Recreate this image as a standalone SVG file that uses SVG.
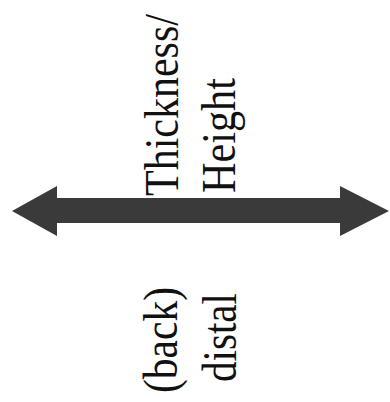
<svg xmlns="http://www.w3.org/2000/svg" width="390" height="402" viewBox="0 0 390 402">
<style>
.lbl{font-family:"Liberation Serif","Times New Roman",serif;font-size:48px;fill:#111}
.arrow{fill:#3a3a3a}
</style>
<rect width="390" height="402" fill="#fff"/>
<g id="connectors">
<path class="arrow" d="M12,211 L57,186 L57,198 L340,198 L340,186 L389,211 L340,236 L340,223 L57,223 L57,236 Z"/>
</g>
<g id="label-thickness"><text class="lbl" transform="translate(178,196) rotate(-90) scale(0.875,1)">Thickness/</text></g>
<g id="label-height"><text class="lbl" transform="translate(235,193) rotate(-90) scale(0.88,1)">Height</text></g>
<g id="label-back"><text class="lbl" transform="translate(177,393) rotate(-90) scale(0.865,1)">(back)</text></g>
<g id="label-distal"><text class="lbl" transform="translate(236,382) rotate(-90) scale(0.856,1)">distal</text></g>
</svg>
